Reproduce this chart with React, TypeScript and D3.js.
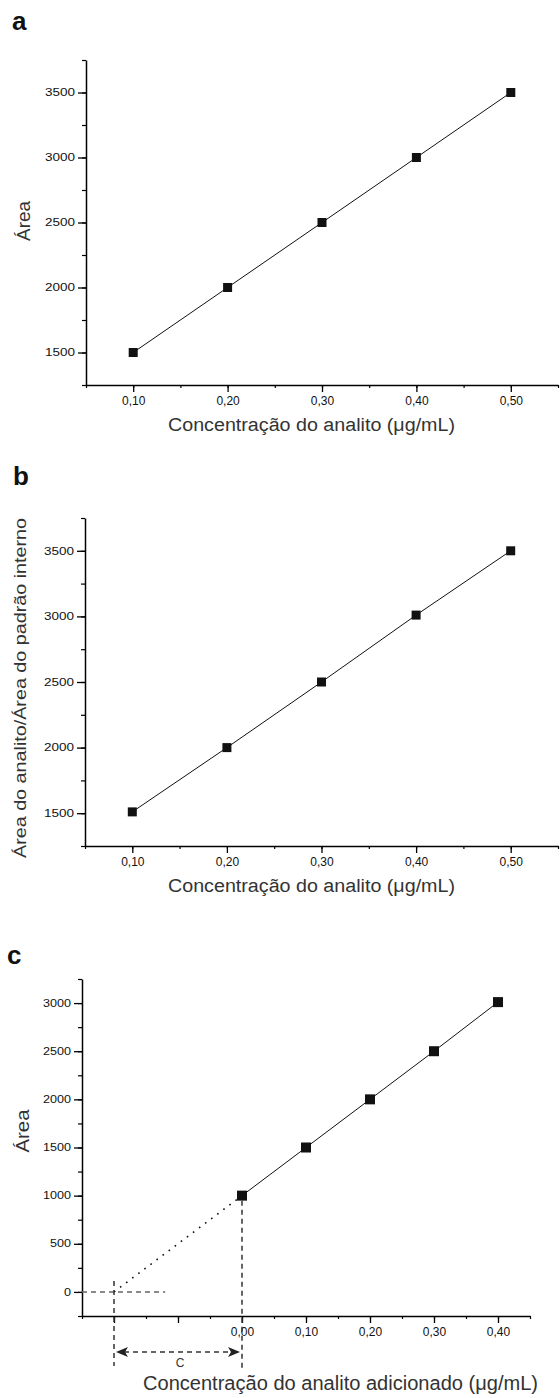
import React, { useRef, useEffect } from "react";
import * as d3 from "d3";

// panel a: external calibration
const concA = [0.1, 0.2, 0.3, 0.4, 0.5];
const areaA = [1500, 2000, 2500, 3000, 3500];
// panel b: internal standard
const concB = [0.1, 0.2, 0.3, 0.4, 0.5];
const ratioB = [1510, 2000, 2500, 3010, 3500];
// panel c: standard addition
const concC = [0.0, 0.1, 0.2, 0.3, 0.4];
const areaC = [1000, 1500, 2000, 2500, 3010];
const extrapX = [-0.2, 0.0];
const extrapY = [0, 1000];

const xTicksAB = [0.1, 0.2, 0.3, 0.4, 0.5];
const yTicksAB = [1500, 2000, 2500, 3000, 3500];
const xTicksC = [-0.2, -0.1, 0.0, 0.1, 0.2, 0.3, 0.4];
const yTicksC = [0, 500, 1000, 1500, 2000, 2500, 3000];

const FONT = "'Liberation Sans', Arial, sans-serif";

const fmtX = (v) => (v < -0.001 ? "" : d3.format(".2f")(Math.abs(v)).replace(".", ","));
const fmtY = (v) => String(Math.round(v));

function drawPanel(svg, cfg) {
  const x = d3.scaleLinear(cfg.xDomain, [cfg.left, cfg.right]);
  const y = d3.scaleLinear(cfg.yDomain, [cfg.bottom, cfg.top]);

  // minor ticks
  const xMinor = d3.range(cfg.xDomain[0], cfg.xDomain[1] + 0.001, 0.05);
  const yMinor = d3.range(cfg.yDomain[0], cfg.yDomain[1] + 1, 250);

  svg.append("g")
    .attr("transform", `translate(0,${cfg.bottom})`)
    .call(d3.axisBottom(x).tickValues(xMinor).tickSize(3).tickFormat(() => "").tickSizeOuter(0))
    .call(g => g.select(".domain").remove())
    .call(g => g.selectAll("line").attr("stroke-width", 1.2));
  svg.append("g")
    .attr("transform", `translate(${cfg.left},0)`)
    .call(d3.axisLeft(y).tickValues(yMinor).tickSize(4).tickFormat(() => "").tickSizeOuter(0))
    .call(g => g.select(".domain").remove())
    .call(g => g.selectAll("line").attr("stroke-width", 1.2));

  // major x axis
  svg.append("g")
    .attr("transform", `translate(0,${cfg.bottom})`)
    .call(d3.axisBottom(x).tickValues(cfg.xTicks).tickSize(7).tickPadding(4).tickSizeOuter(0).tickFormat(fmtX))
    .call(g => g.select(".domain").attr("stroke-width", 1.5))
    .call(g => g.selectAll("line").attr("stroke-width", 1.3))
    .call(g => g.selectAll("text")
      .attr("font-family", FONT)
      .attr("font-size", 12)
      .attr("fill", "#111"));

  // major y axis
  svg.append("g")
    .attr("transform", `translate(${cfg.left},0)`)
    .call(d3.axisLeft(y).tickValues(cfg.yTicks).tickSize(8).tickPadding(3).tickSizeOuter(0).tickFormat(fmtY))
    .call(g => g.select(".domain").attr("stroke-width", 1.5))
    .call(g => g.selectAll("line").attr("stroke-width", 1.3))
    .call(g => g.selectAll("text")
      .attr("font-family", FONT)
      .attr("font-size", 10)
      .attr("fill", "#111")
      .attr("textLength", d => fmtY(d).length * cfg.digitW)
      .attr("lengthAdjust", "spacingAndGlyphs"));

  // connecting line
  const I = d3.range(cfg.xs.length);
  const line = d3.line().x(i => x(cfg.xs[i])).y(i => y(cfg.ys[i]));
  svg.append("path")
    .attr("fill", "none")
    .attr("stroke", "#111")
    .attr("stroke-width", 1)
    .attr("d", line(I));

  svg.append("g")
    .selectAll("rect")
    .data(I)
    .enter()
    .append("rect")
    .attr("x", i => x(cfg.xs[i]) - cfg.msize / 2)
    .attr("y", i => y(cfg.ys[i]) - cfg.msize / 2)
    .attr("width", cfg.msize)
    .attr("height", cfg.msize)
    .attr("fill", "#111");

  // panel letter
  svg.append("text")
    .attr("x", cfg.letterX)
    .attr("y", cfg.letterY)
    .attr("font-family", FONT)
    .attr("font-weight", "bold")
    .attr("font-size", 26)
    .attr("fill", "#111")
    .text(cfg.letter);

  // x title
  svg.append("text")
    .attr("x", cfg.xTitleX)
    .attr("y", cfg.xTitleY)
    .attr("font-family", FONT)
    .attr("font-size", cfg.xTitleSize)
    .attr("fill", "#333")
    .attr("textLength", cfg.xTitleLen)
    .attr("lengthAdjust", "spacingAndGlyphs")
    .text(cfg.xTitle);

  // y title
  svg.append("text")
    .attr("transform", `translate(${cfg.yTitleX},${cfg.yTitleY}) rotate(-90)`)
    .attr("text-anchor", "middle")
    .attr("font-family", FONT)
    .attr("font-size", cfg.yTitleSize)
    .attr("fill", "#333")
    .attr("textLength", cfg.yTitleLen)
    .attr("lengthAdjust", "spacingAndGlyphs")
    .text(cfg.yTitle);

  return { x, y };
}

const App = () => {
  const ref = useRef(null);

  useEffect(() => {
    const svg = d3.select(ref.current);
    svg.selectAll("*").remove();

    drawPanel(svg, {
      letter: "a", letterX: 12, letterY: 30,
      xs: concA, ys: areaA, msize: 9,
      xDomain: [0.05, 0.55], yDomain: [1250, 3750],
      left: 86, right: 558, top: 60, bottom: 385,
      xTicks: xTicksAB, yTicks: yTicksAB, digitW: 7.5,
      xTitle: "Concentração do analito (μg/mL)", xTitleX: 168, xTitleY: 431, xTitleSize: 18, xTitleLen: 287,
      yTitle: "Área", yTitleX: 30, yTitleY: 221, yTitleSize: 18, yTitleLen: 40,
    });

    drawPanel(svg, {
      letter: "b", letterX: 13, letterY: 485,
      xs: concB, ys: ratioB, msize: 9,
      xDomain: [0.05, 0.55], yDomain: [1250, 3750],
      left: 85, right: 558, top: 518, bottom: 846,
      xTicks: xTicksAB, yTicks: yTicksAB, digitW: 7.5,
      xTitle: "Concentração do analito (μg/mL)", xTitleX: 168, xTitleY: 892, xTitleSize: 18, xTitleLen: 287,
      yTitle: "Área do analito/Área do padrão interno", yTitleX: 26, yTitleY: 688, yTitleSize: 17, yTitleLen: 340,
    });

    const c = drawPanel(svg, {
      letter: "c", letterX: 7, letterY: 964,
      xs: concC, ys: areaC, msize: 10,
      xDomain: [-0.25, 0.45], yDomain: [-250, 3250],
      left: 82, right: 530, top: 979, bottom: 1316,
      xTicks: xTicksC, yTicks: yTicksC, digitW: 7,
      xTitle: "Concentração do analito adicionado (μg/mL)", xTitleX: 143, xTitleY: 1390, xTitleSize: 19.5, xTitleLen: 395,
      yTitle: "Área", yTitleX: 29, yTitleY: 1131, yTitleSize: 19, yTitleLen: 43,
    });

    // extrapolation (dotted) to the x intercept
    const ex = d3.line().x(i => c.x(extrapX[i])).y(i => c.y(extrapY[i]));
    svg.append("path")
      .attr("fill", "none")
      .attr("stroke", "#111")
      .attr("stroke-width", 1.6)
      .attr("stroke-dasharray", "1.6 6")
      .attr("d", ex([0, 1]));

    const x0 = c.x(extrapX[0]);
    const x1 = c.x(extrapX[1]);
    const dashed = (xa, ya, xb, yb, col) =>
      svg.append("line")
        .attr("x1", xa).attr("y1", ya).attr("x2", xb).attr("y2", yb)
        .attr("stroke", col)
        .attr("stroke-width", 1.5)
        .attr("stroke-dasharray", "5 4");

    // guide lines
    dashed(82, c.y(0), c.x(-0.12), c.y(0), "#666");
    dashed(x0, c.y(0) - 11, x0, 1366, "#333");
    dashed(x1, c.y(extrapY[1]) + 5, x1, 1368, "#333");

    // double arrow "C"
    const ay = 1352;
    dashed(x0 + 10, ay, x1 - 10, ay, "#333");
    const head = (tip, dir) => {
      const s = dir;
      svg.append("path")
        .attr("d", `M${tip},${ay} L${tip + s * 12},${ay - 5} L${tip + s * 9},${ay} L${tip + s * 12},${ay + 5} Z`)
        .attr("fill", "#222");
    };
    head(x0 + 2, 1);
    head(x1 - 2, -1);

    svg.append("text")
      .attr("x", (x0 + x1) / 2 + 2)
      .attr("y", 1367)
      .attr("text-anchor", "middle")
      .attr("font-family", FONT)
      .attr("font-size", 12)
      .attr("fill", "#333")
      .text("C");
  }, []);

  return (
    <svg ref={ref} width={560} height={1398}
      style={{ position: "absolute", left: 0, top: 0, background: "#fff" }}>
    </svg>
  );
};

export default App;
